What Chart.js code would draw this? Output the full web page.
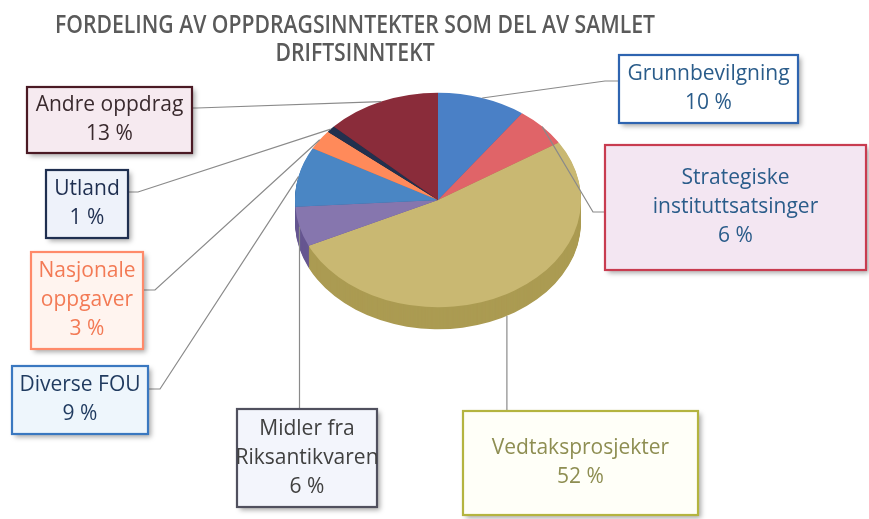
<!DOCTYPE html>
<html><head><meta charset="utf-8">
<script src="https://cdn.jsdelivr.net/npm/chart.js@4/dist/chart.umd.min.js"></script>
<style>html,body{margin:0;padding:0;background:#fff;}canvas{display:block;}</style>
</head><body>
<canvas id="c" width="869" height="519"></canvas>
<script>
const titleLines = ['FORDELING AV OPPDRAGSINNTEKTER SOM DEL AV SAMLET', 'DRIFTSINNTEKT'];
const categories = ['Grunnbevilgning', 'Strategiske instituttsatsinger', 'Vedtaksprosjekter', 'Midler fra Riksantikvaren', 'Diverse FOU', 'Nasjonale oppgaver', 'Utland', 'Andre oppdrag'];
const values = [10, 6, 52, 6, 9, 3, 1, 13];
const labelLines = [['Grunnbevilgning'], ['Strategiske', 'instituttsatsinger'], ['Vedtaksprosjekter'], ['Midler fra', 'Riksantikvaren'], ['Diverse FOU'], ['Nasjonale', 'oppgaver'], ['Utland'], ['Andre oppdrag']];

const topColors  = ['#4a80c6', '#e06468', '#c9b872', '#8676ae', '#4a86c4', '#ff8a5a', '#22304e', '#8a2c3a'];
const sideColors = ['#33609c', '#b04448', '#ab9b52', '#665690', '#33679c', '#d06a3c', '#141c30', '#661e2a'];

// layout of the callout boxes (positions/styles only)
const boxes = [
  {x:619, y:55,  w:179, h:68,  border:'#2e64b0', fill:'#ffffff', text:'#2a5c8a', attach:[[605,81],[619,81]]},
  {x:605, y:145, w:261, h:125, border:'#c83c50', fill:'#f3e6f2', text:'#2a5c8a', attach:[[593,212],[605,212]]},
  {x:463, y:411, w:235, h:104, border:'#b4b440', fill:'#fffff8', text:'#8e8e52', attach:'vdown', depth:true},
  {x:237, y:409, w:140, h:98,  border:'#50505e', fill:'#f3f5fc', text:'#404040', attach:'vdown'},
  {x:12,  y:366, w:136, h:68,  border:'#3a78c0', fill:'#eef6fc', text:'#1f3a5f', attach:[[160,389],[148,389]]},
  {x:31,  y:252, w:112, h:97,  border:'#ff8a6a', fill:'#fff4ef', text:'#f37a55', attach:[[155,290],[143,290]]},
  {x:46,  y:170, w:82,  h:68,  border:'#1f2f50', fill:'#eef2fa', text:'#1f2f50', attach:[[138,192],[128,192]]},
  {x:27,  y:87,  w:165, h:66,  border:'#4a1a24', fill:'#f6eaf0', text:'#3a2a2e', attach:[[197,108],[192,108]]}
];

const SY = 0.75;   // vertical squash of the pie
const DEPTH = 22;  // thickness of the 3D side
const FONT = '"Open Sans", "DejaVu Sans", sans-serif';

const pie3d = {
  id: 'pie3d',
  beforeDatasetsDraw(chart) {
    const ctx = chart.ctx;
    const meta = chart.getDatasetMeta(0);
    const a0 = meta.data[0];
    const cx = a0.x, cy = a0.y, r = a0.outerRadius;
    ctx.save();
    ctx.translate(cx, cy);
    ctx.scale(1, SY);
    ctx.translate(-cx, -cy);
    for (let d = DEPTH; d >= 1; d--) {
      meta.data.forEach((arc, i) => {
        ctx.beginPath();
        ctx.moveTo(cx, cy + d / SY);
        ctx.arc(cx, cy + d / SY, r, arc.startAngle, arc.endAngle);
        ctx.closePath();
        ctx.fillStyle = sideColors[i];
        ctx.fill();
      });
    }
  },
  afterDatasetsDraw(chart) {
    const ctx = chart.ctx;
    ctx.restore();
    const meta = chart.getDatasetMeta(0);
    const a0 = meta.data[0];
    const cx = a0.x, cy = a0.y, r = a0.outerRadius;
    ctx.save();
    ctx.strokeStyle = '#8a8a8a';
    ctx.lineWidth = 1.2;
    meta.data.forEach((arc, i) => {
      const mid = (arc.startAngle + arc.endAngle) / 2;
      let ax = cx + r * Math.cos(mid);
      let ay = cy + r * SY * Math.sin(mid);
      const b = boxes[i];
      if (b.depth) ay += DEPTH;
      ctx.beginPath();
      ctx.moveTo(ax, ay);
      if (b.attach === 'vdown') {
        ctx.lineTo(ax, b.y);
      } else {
        b.attach.forEach(p => ctx.lineTo(p[0], p[1]));
      }
      ctx.stroke();
    });
    ctx.restore();
  },
  afterDraw(chart) {
    const ctx = chart.ctx;
    // title (condensed to mimic the narrow original face)
    ctx.save();
    ctx.fillStyle = '#5a5a5a';
    ctx.font = '600 25px ' + FONT;
    ctx.textAlign = 'center';
    ctx.textBaseline = 'alphabetic';
    const w0 = ctx.measureText(titleLines[0]).width;
    const sx = 600 / w0;
    ctx.translate(355, 0);
    ctx.scale(sx, 1);
    ctx.fillText(titleLines[0], 0, 33);
    ctx.fillText(titleLines[1], 0, 61);
    ctx.restore();
    // boxes
    boxes.forEach((b, i) => {
      ctx.save();
      ctx.shadowColor = 'rgba(0,0,0,0.35)';
      ctx.shadowBlur = 5;
      ctx.shadowOffsetX = 3;
      ctx.shadowOffsetY = 3;
      ctx.fillStyle = b.fill;
      ctx.fillRect(b.x, b.y, b.w, b.h);
      ctx.restore();
      ctx.save();
      ctx.strokeStyle = b.border;
      ctx.lineWidth = 2.2;
      ctx.strokeRect(b.x, b.y, b.w, b.h);
      const lines = labelLines[i].concat([values[i] + ' %']);
      const lh = 29;
      ctx.fillStyle = b.text;
      ctx.font = '21px ' + FONT;
      ctx.textAlign = 'center';
      ctx.textBaseline = 'middle';
      const x = b.x + b.w / 2;
      const y0 = b.y + b.h / 2 - (lines.length - 1) * lh / 2;
      lines.forEach((t, k) => ctx.fillText(t, x, y0 + k * lh));
      ctx.restore();
    });
  }
};

new Chart(document.getElementById('c'), {
  type: 'pie',
  data: {
    labels: categories,
    datasets: [{
      data: values,
      backgroundColor: topColors,
      borderWidth: 0,
      clip: false
    }]
  },
  options: {
    responsive: false,
    animation: false,
    events: [],
    rotation: 0,
    layout: { padding: { left: 295, right: 288, top: 57, bottom: 176 } },
    plugins: { legend: { display: false }, tooltip: { enabled: false }, title: { display: false } }
  },
  plugins: [pie3d]
});
</script>
</body></html>
